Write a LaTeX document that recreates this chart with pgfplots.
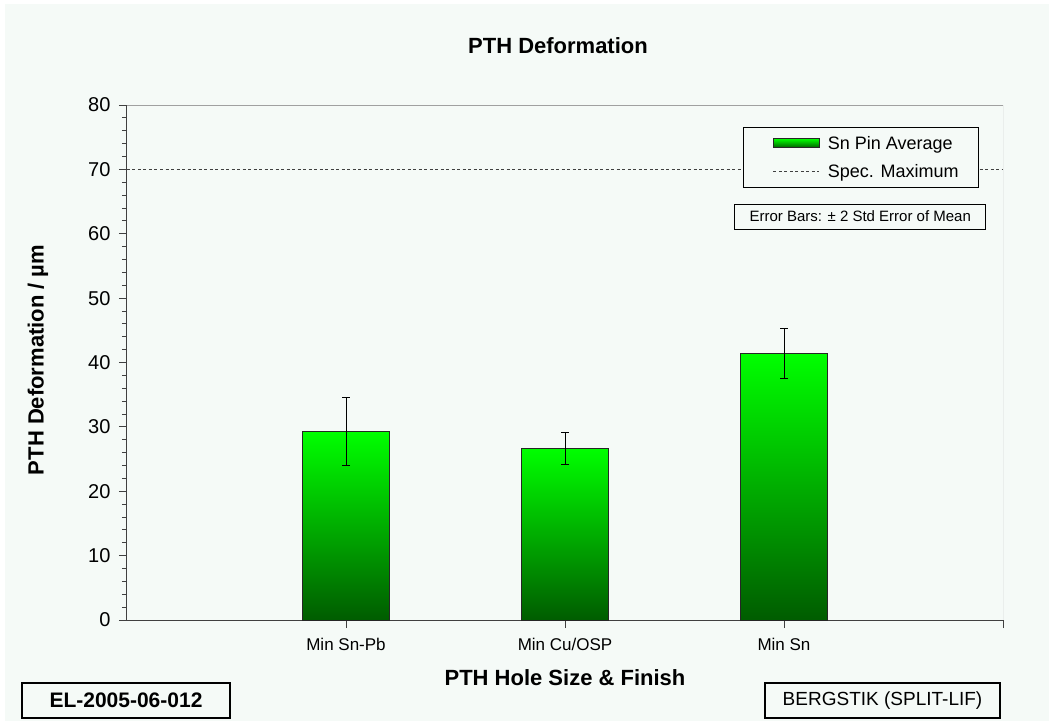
\documentclass[border=0pt]{standalone}
\usepackage{fontspec}
\setmainfont{Liberation Sans}
\usepackage{pgfplots}
\pgfplotsset{compat=1.18}
\definecolor{bg}{HTML}{F5FAF7}
\definecolor{gtop}{HTML}{00FF00}
\definecolor{gmid}{HTML}{00D800}
\definecolor{gleg}{HTML}{00C800}
\definecolor{gbot}{HTML}{005C00}
\definecolor{axdark}{HTML}{404040}
\definecolor{axlight}{HTML}{A0A0A0}
\pgfplotsset{
  snbar/.style={ybar, bar width=0.4, bar shift=0pt, draw=black!85, line width=0.8pt,
    top color=gtop, middle color=gmid, bottom color=gbot,
    error bars/y dir=both, error bars/y explicit,
    error bars/error bar style={black, line width=0.8pt},
    error bars/error mark options={rotate=90, mark size=4pt, black, line width=0.8pt}},
}
\begin{document}
\begin{tikzpicture}[x=1pt,y=1pt]
\fill[white] (0,0) rectangle (1049,-721);
\fill[bg] (5,-4) rectangle (1049,-721);
\begin{axis}[
  at={(127pt,-620pt)}, anchor=south west,
  scale only axis, width=876pt, height=515pt,
  xmin=0, xmax=4, ymin=0, ymax=80,
  xtick={1,2,3}, xticklabels={Min Sn-Pb, Min Cu/OSP, Min Sn},
  extra x ticks={4}, extra x tick labels={},
  ytick={0,10,...,80}, minor y tick num=4,
  axis x line*=bottom, axis y line*=left,
  axis line style={axdark, line width=1pt},
  tick style={axdark, line width=0.8pt},
  tick align=outside,
  major tick length=8pt, minor tick length=5pt,
  /pgf/number format/assume math mode=true,
  xticklabel style={font=\fontsize{17}{20}\selectfont, yshift=-7pt},
  yticklabel style={font=\fontsize{20}{24}\selectfont, xshift=-5pt},
  title={PTH Deformation},
  title style={font=\bfseries\fontsize{22}{26}\selectfont, at={(axis description cs:0.492,1.103)}, anchor=center},
  xlabel={PTH Hole Size \& Finish},
  xlabel style={font=\bfseries\fontsize{22}{26}\selectfont, at={(axis description cs:0.5,-0.1126)}, anchor=center},
  ylabel={PTH Deformation / µm},
  ylabel style={font=\bfseries\fontsize{22}{26}\selectfont, at={(axis description cs:-0.1016,0.505)}, anchor=center},
  legend style={at={(0.9726,0.957)}, anchor=north east, draw=black, line width=0.8pt, fill=bg,
    font=\fontsize{18}{21}\selectfont, inner xsep=18pt, inner ysep=7pt, row sep=9pt,
    /tikz/every odd column/.append style={column sep=6pt}},
  legend cell align=left,
]
\addplot[snbar,
  legend image code/.code={\path (-12pt,0pt); \draw[draw=black!85, line width=0.8pt, fill=gleg] (0pt,-4pt) rectangle (46pt,5pt);}]
coordinates {(1,29.3) +- (0,5.35)};
\addlegendentry{Sn Pin Average}
\addplot[axdark, line width=0.8pt, dash pattern=on 3pt off 2.5pt,
  legend image code/.code={\path (-12pt,0pt); \draw[axdark, line width=0.8pt, dash pattern=on 3pt off 2.5pt] (0pt,0pt) -- (46pt,0pt);}]
coordinates {(0,70) (4,70)};
\addlegendentry{Spec. Maximum}
\addplot[forget plot, snbar] coordinates {(2,26.7) +- (0,2.5)};
\addplot[forget plot, snbar] coordinates {(3,41.45) +- (0,3.85)};
\draw[axlight, line width=1pt] (rel axis cs:0,1) -- (rel axis cs:1,1) -- (rel axis cs:1,0);
\node[draw=black, line width=0.8pt, fill=bg, font=\fontsize{15}{18}\selectfont,
  minimum width=251pt, minimum height=25pt, inner sep=0pt]
  at (rel axis cs:0.837,0.7835) {Error Bars: ± 2 Std Error of Mean};
\end{axis}
\draw[black, line width=1.2pt, fill=bg] (22,-683) rectangle (230,-718);
\node[font=\bfseries\fontsize{21}{25}\selectfont] at (126,-700.5) {EL-2005-06-012};
\draw[black, line width=1.2pt, fill=bg] (765,-683) rectangle (1000,-718);
\node[font=\fontsize{19}{23}\selectfont] at (882.5,-700.5) {BERGSTIK (SPLIT-LIF)};
\pgfresetboundingbox
\useasboundingbox (0,0) rectangle (1049,-721);
\end{tikzpicture}
\end{document}
